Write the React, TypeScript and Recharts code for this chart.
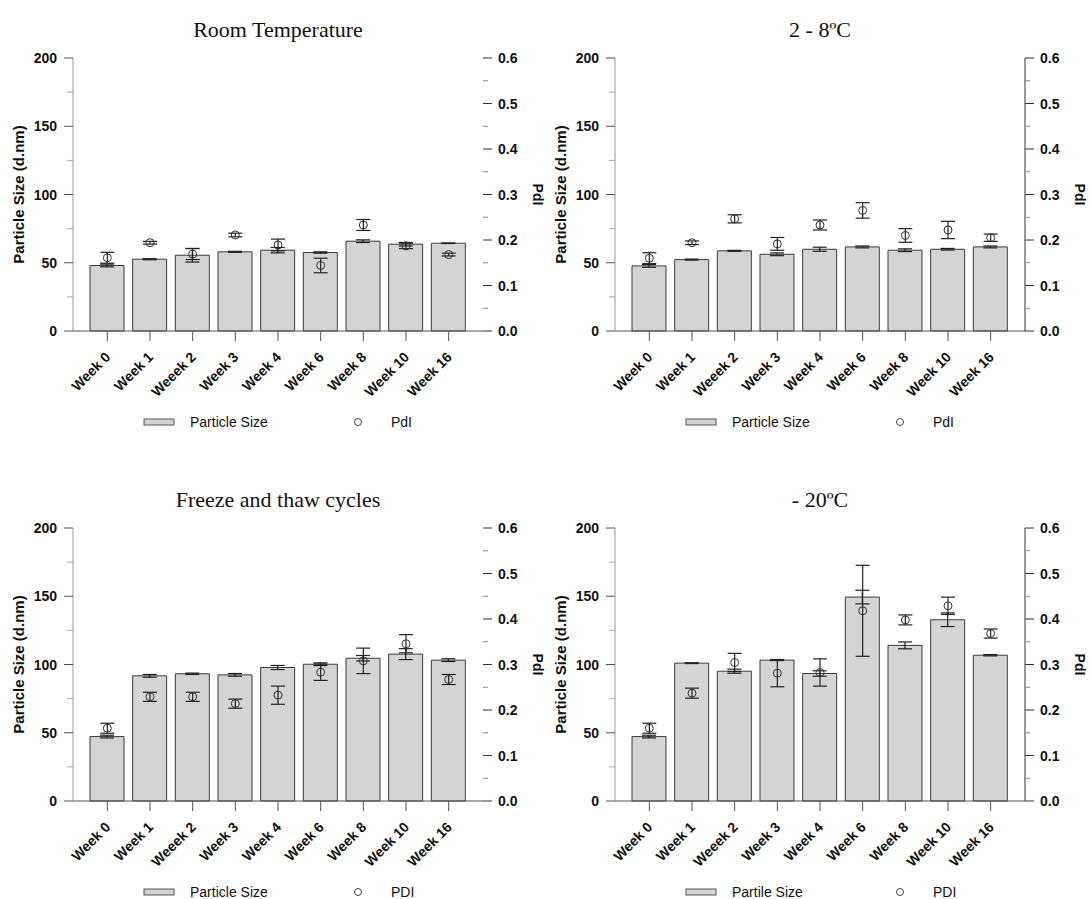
import React from "react";
import {
  ComposedChart,
  Bar,
  Line,
  ErrorBar,
  XAxis,
  YAxis,
  Legend,
} from "recharts";

const SANS = "'Liberation Sans', Arial, Helvetica, sans-serif";
const SERIF = "'Liberation Serif', 'Times New Roman', Times, serif";

// categories
const weeks = ["Week 0", "Week 1", "Weeek 2", "Week 3", "Week 4", "Week 6", "Week 8", "Week 10", "Week 16"];

// axis ticks (minor ticks sit between the labelled ones)
const sizeTicks = [0, 25, 50, 75, 100, 125, 150, 175, 200];
const pdiTicks = [0, 0.05, 0.1, 0.15, 0.2, 0.25, 0.3, 0.35, 0.4, 0.45, 0.5, 0.55, 0.6];

// Room temperature
const roomSize = [48, 52.6, 55.5, 58, 59.2, 57.5, 65.8, 63.6, 64.3];
const roomSizeErr = [1, 0.4, 5, 0.4, 2, 0.5, 1, 1.3, 0.2];
const roomPdi = [0.161, 0.194, 0.169, 0.211, 0.189, 0.144, 0.233, 0.187, 0.168];
const roomPdiErr = [0.012, 0.003, 0.012, 0.004, 0.013, 0.016, 0.012, 0.006, 0.003];

// 2 - 8 ºC
const fridgeSize = [47.7, 52.3, 58.7, 56.2, 59.9, 61.6, 59.2, 59.9, 61.6];
const fridgeSizeErr = [1, 0.4, 0.4, 1, 1.5, 0.7, 1, 0.6, 0.7];
const fridgePdi = [0.16, 0.194, 0.2465, 0.1915, 0.233, 0.265, 0.21, 0.222, 0.205];
const fridgePdiErr = [0.012, 0.004, 0.009, 0.014, 0.011, 0.017, 0.015, 0.019, 0.008];

// freeze / thaw
const freezeSize = [47.2, 91.7, 93.2, 92.4, 97.8, 100.2, 104.6, 107.6, 103.2];
const freezeSizeErr = [1, 1, 0.5, 1, 1.5, 1, 2, 4, 1];
const freezePdi = [0.16, 0.229, 0.229, 0.214, 0.2326, 0.283, 0.308, 0.3456, 0.267];
const freezePdiErr = [0.011, 0.01, 0.01, 0.01, 0.02, 0.018, 0.028, 0.02, 0.011];

// -20 ºC
const frozenSize = [47.2, 101, 95.1, 103.2, 93.4, 149.4, 114, 132.8, 106.8];
const frozenSizeErr = [1, 0.3, 1.5, 0.3, 2, 5, 2.5, 5, 0.5];
const frozenPdi = [0.16, 0.237, 0.3045, 0.281, 0.2825, 0.418, 0.398, 0.429, 0.368];
const frozenPdiErr = [0.011, 0.011, 0.02, 0.03, 0.03, 0.1, 0.011, 0.019, 0.01];

const buildRows = (size: number[], sizeErr: number[], pdi: number[], pdiErr: number[]) =>
  weeks.map((week, i) => ({
    week,
    size: size[i],
    sizeErr: sizeErr[i],
    pdi: pdi[i],
    pdiErr: pdiErr[i],
  }));

const LeftTick = ({ x, y, payload }: any) => {
  const major = payload.value % 50 === 0;
  return (
    <g>
      <line x1={x - (major ? 9 : 6)} x2={x} y1={y} y2={y} stroke={major ? "#555" : "#aaa"} />
      {major && (
        <text x={x - 16} y={y} dy={5} textAnchor="end" fontSize={14} fontWeight="bold" fill="#111" fontFamily={SANS}>
          {payload.value}
        </text>
      )}
    </g>
  );
};

const RightTick = ({ x, y, payload }: any) => {
  const major = Math.round(payload.value * 100) % 10 === 0;
  return (
    <g>
      <line x1={x} x2={x + (major ? 9 : 5)} y1={y} y2={y} stroke={major ? "#333" : "#888"} />
      {major && (
        <text x={x + 15} y={y} dy={5} textAnchor="start" fontSize={14} fontWeight="bold" fill="#111" fontFamily={SANS}>
          {payload.value.toFixed(1)}
        </text>
      )}
    </g>
  );
};

const WeekTick = ({ x, y, payload }: any) => (
  <g>
    <line x1={x} x2={x} y1={y} y2={y + 10} stroke="#555" />
    <text
      x={x + 4}
      y={y + 27}
      textAnchor="end"
      transform={`rotate(-45, ${x + 4}, ${y + 27})`}
      fontSize={14}
      fontWeight="bold"
      fill="#111"
      fontFamily={SANS}
    >
      {payload.value}
    </text>
  </g>
);

const leftTitle = ({ viewBox }: any) => {
  const cx = 18;
  const cy = viewBox.y + viewBox.height / 2;
  return (
    <text x={cx} y={cy} transform={`rotate(-90, ${cx}, ${cy})`} textAnchor="middle" dominantBaseline="central"
      fontSize={15} fontWeight="bold" fill="#111" fontFamily={SANS}>
      Particle Size (d.nm)
    </text>
  );
};

const rightTitle = ({ viewBox }: any) => {
  const cx = viewBox.x + 55;
  const cy = viewBox.y + viewBox.height / 2;
  return (
    <text x={cx} y={cy} transform={`rotate(90, ${cx}, ${cy})`} textAnchor="middle" dominantBaseline="central"
      fontSize={14} fontWeight="bold" fill="#111" fontFamily={SANS}>
      PdI
    </text>
  );
};

const legendContent = (sizeName: string, pdiName: string) => () => (
  <svg width={545} height={20} style={{ display: "block" }}>
    <rect x={144} y={7} width={30} height={6} fill="#d4d4d4" stroke="#555" />
    <text x={190} y={15} fontSize={14} fill="#111" fontFamily={SANS}>{sizeName}</text>
    <circle cx={358} cy={10} r={3.5} fill="none" stroke="#444" />
    <text x={391} y={15} fontSize={14} fill="#111" fontFamily={SANS}>{pdiName}</text>
  </svg>
);

interface PanelProps {
  title: string;
  rows: ReturnType<typeof buildRows>;
  sizeName: string;
  pdiName: string;
  rightLine: boolean;
  left: number;
  top: number;
}

function Panel({ title, rows, sizeName, pdiName, rightLine, left, top }: PanelProps) {
  return (
    <div style={{ position: "absolute", left, top, width: 548, height: 470 }}>
      <div
        style={{
          position: "absolute",
          left: 73,
          width: 410,
          top: 19,
          textAlign: "center",
          fontFamily: SERIF,
          fontSize: 22,
          lineHeight: "22px",
          color: "#111",
        }}
      >
        {title}
      </div>
      <ComposedChart width={548} height={470} data={rows} margin={{ top: 58, right: 3, bottom: 0, left: 0 }}>
        <XAxis
          dataKey="week"
          height={139}
          interval={0}
          tickSize={0}
          tickMargin={0}
          tickLine={false}
          tick={<WeekTick />}
          stroke="#555"
          padding={{ left: 13, right: 13 }}
        />
        <YAxis
          yAxisId="left"
          width={73}
          domain={[0, 200]}
          ticks={sizeTicks}
          interval={0}
          tickSize={0}
          tickMargin={0}
          tickLine={false}
          tick={<LeftTick />}
          stroke="#999"
          label={leftTitle}
        />
        <YAxis
          yAxisId="right"
          orientation="right"
          width={62}
          domain={[0, 0.6]}
          ticks={pdiTicks}
          interval={0}
          tickSize={0}
          tickMargin={0}
          tickLine={false}
          tick={<RightTick />}
          axisLine={rightLine ? { stroke: "#333" } : false}
          allowDataOverflow
          label={rightTitle}
        />
        <Legend
          verticalAlign="middle"
          align="center"
          content={legendContent(sizeName, pdiName)}
          wrapperStyle={{ top: 412, left: 0, width: 545, height: 20 }}
        />
        <Bar yAxisId="left" dataKey="size" name={sizeName} barSize={34} fill="#d4d4d4" stroke="#3a3a3a"
          strokeWidth={1} isAnimationActive={false}>
          <ErrorBar dataKey="sizeErr" width={7} stroke="#222" strokeWidth={1.2} direction="y" />
        </Bar>
        <Line
          yAxisId="right"
          dataKey="pdi"
          name={pdiName}
          stroke="none"
          dot={{ r: 4, fill: "none", stroke: "#333", strokeWidth: 1 }}
          activeDot={false}
          isAnimationActive={false}
        >
          <ErrorBar dataKey="pdiErr" width={7} stroke="#222" strokeWidth={1.2} direction="y" />
        </Line>
      </ComposedChart>
    </div>
  );
}

export default function App() {
  return (
    <div style={{ position: "absolute", left: 0, top: 0, width: 1090, height: 899, background: "#fff", overflow: "hidden" }}>
      <Panel title="Room Temperature" rows={buildRows(roomSize, roomSizeErr, roomPdi, roomPdiErr)}
        sizeName="Particle Size" pdiName="PdI" rightLine={false} left={0} top={0} />
      <Panel title="2 - 8ºC" rows={buildRows(fridgeSize, fridgeSizeErr, fridgePdi, fridgePdiErr)}
        sizeName="Particle Size" pdiName="PdI" rightLine left={542} top={0} />
      <Panel title="Freeze and thaw cycles" rows={buildRows(freezeSize, freezeSizeErr, freezePdi, freezePdiErr)}
        sizeName="Particle Size" pdiName="PDI" rightLine={false} left={0} top={470} />
      <Panel title="- 20ºC" rows={buildRows(frozenSize, frozenSizeErr, frozenPdi, frozenPdiErr)}
        sizeName="Partile Size" pdiName="PDI" rightLine left={542} top={470} />
    </div>
  );
}
